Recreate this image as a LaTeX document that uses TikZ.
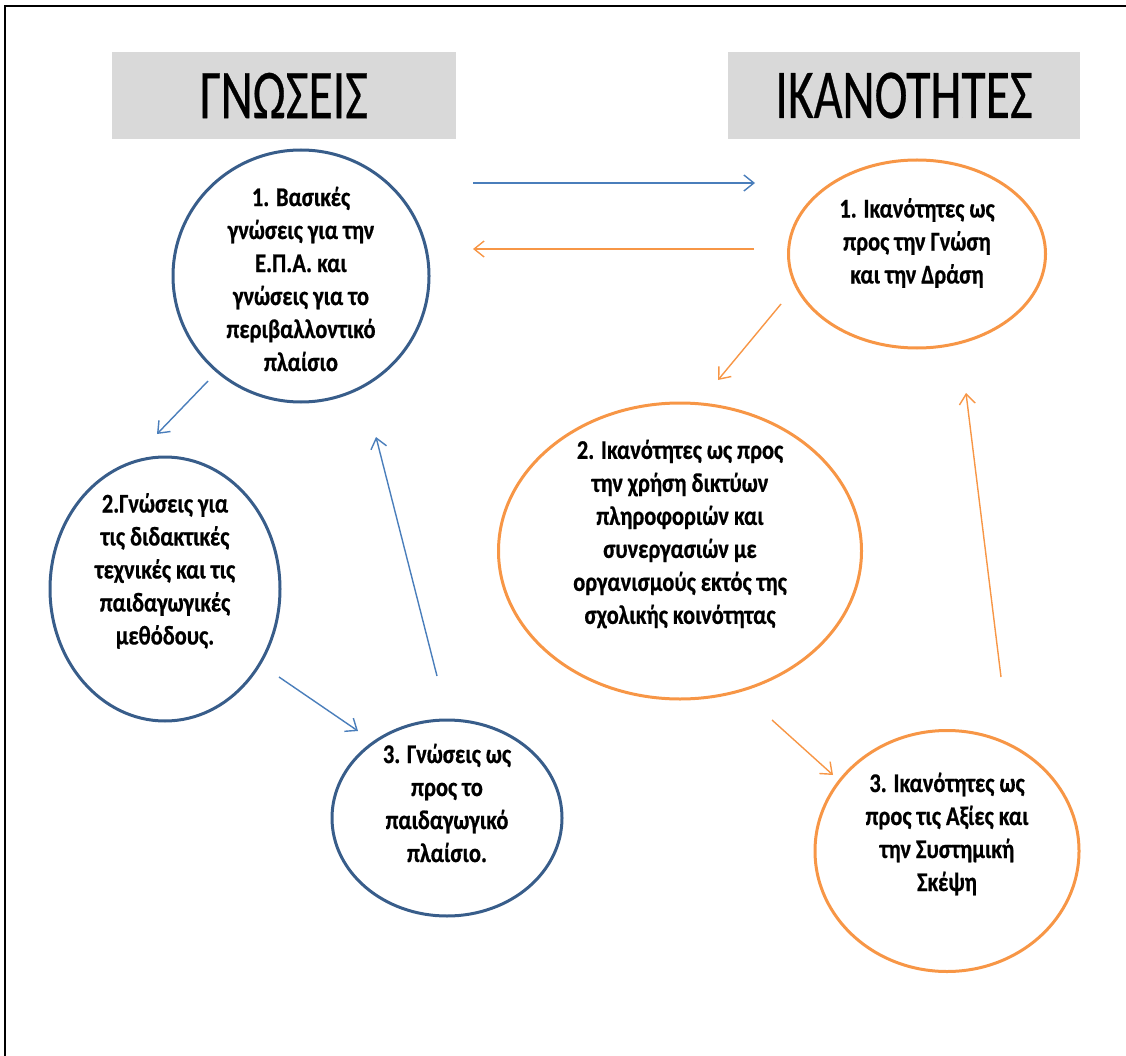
\documentclass[tikz,border=0pt]{standalone}
\usepackage{fontspec}
\setmainfont{Carlito}
\newfontfamily\bodyfont[FakeStretch=0.83, BoldFeatures={FakeBold=0.6}]{Carlito}
\newfontfamily\hdrfont[FakeStretch=0.71, FakeBold=0.4]{Carlito}
\usetikzlibrary{arrows.meta,shapes.geometric}
\definecolor{bline}{HTML}{385D8A}
\definecolor{oline}{HTML}{F79646}
\definecolor{barrow}{HTML}{4A7EBB}
\definecolor{hdrgray}{HTML}{D9D9D9}
\begin{document}
\begin{tikzpicture}[x=1pt,y=-1pt,
  bell/.style={ellipse, draw=bline, line width=3pt, inner sep=0pt, outer sep=0pt},
  oell/.style={ellipse, draw=oline, line width=3pt, inner sep=0pt, outer sep=0pt},
  txt/.style={align=center, font=\bodyfont\bfseries\fontsize{27}{33}\selectfont, inner sep=0pt},
  hdr/.style={fill=hdrgray, inner sep=0pt, font=\hdrfont\fontsize{70}{70}\selectfont},
  barr/.style={draw=barrow, line width=1.4pt, -{Straight Barb[length=10pt,width=16pt]}},
  oarr/.style={draw=oline, line width=1.4pt, -{Straight Barb[length=10pt,width=16pt]}}]
\useasboundingbox (0,0) rectangle (1126,1056);
% frame
\draw[line width=2pt] (5,1070) -- (5,6) -- (1140,6);
% headers
\node[hdr, minimum width=344pt, minimum height=87pt] (h1) at (284,95.5) {ΓΝΩΣΕΙΣ};
\node[hdr, minimum width=352pt, minimum height=87pt] (h2) at (904,95.5) {ΙΚΑΝΟΤΗΤΕΣ};
% blue ellipses
\node[bell, minimum width=256pt, minimum height=252pt] (b1) at (301,276) {};
\node[bell, minimum width=230pt, minimum height=264pt] (b2) at (165,589) {};
\node[bell, minimum width=230pt, minimum height=196pt] (b3) at (447,818) {};
% orange ellipses
\node[oell, minimum width=257pt, minimum height=188pt] (o1) at (917,254) {};
\node[oell, minimum width=363pt, minimum height=296pt] (o2) at (680,551) {};
\node[oell, minimum width=264pt, minimum height=241pt] (o3) at (947,851) {};
% texts
\node[txt] (b1t) at (301,279) {1. Βασικές\\γνώσεις για την\\Ε.Π.Α. και\\γνώσεις για το\\περιβαλλοντικό\\πλαίσιο};
\node[txt] (b2t) at (165,571) {2.Γνώσεις για\\τις διδακτικές\\τεχνικές και τις\\παιδαγωγικές\\μεθόδους.};
\node[txt] (b3t) at (447,803) {3. Γνώσεις ως\\προς το\\παιδαγωγικό\\πλαίσιο.};
\node[txt] (o1t) at (917,243) {1. Ικανότητες ως\\προς την Γνώση\\και την Δράση};
\node[txt] (o2t) at (680,534) {2. Ικανότητες ως προς\\την χρήση δικτύων\\πληροφοριών και\\συνεργασιών με\\οργανισμούς εκτός της\\σχολικής κοινότητας};
\node[txt] (o3t) at (947,834) {3. Ικανότητες ως\\προς τις Αξίες και\\την Συστημική\\Σκέψη};
% arrow end points
\coordinate (a1s) at (473,183); \coordinate (a1e) at (755,183);
\coordinate (a2s) at (754,249); \coordinate (a2e) at (473,249);
\coordinate (a3s) at (208,381); \coordinate (a3e) at (157,434);
\coordinate (a4s) at (279,677); \coordinate (a4e) at (358,731);
\coordinate (a5s) at (437,676); \coordinate (a5e) at (376,437);
\coordinate (a6s) at (781,304); \coordinate (a6e) at (718,380);
\coordinate (a7s) at (772,720); \coordinate (a7e) at (833,775);
\coordinate (a8s) at (1001,677); \coordinate (a8e) at (966,393);
% arrows
\draw[barr] (a1s) -- (a1e);
\draw[oarr] (a2s) -- (a2e);
\draw[barr] (a3s) -- (a3e);
\draw[barr] (a4s) -- (a4e);
\draw[barr] (a5s) -- (a5e);
\draw[oarr] (a6s) -- (a6e);
\draw[oarr] (a7s) -- (a7e);
\draw[oarr] (a8s) -- (a8e);
\end{tikzpicture}
\end{document}
